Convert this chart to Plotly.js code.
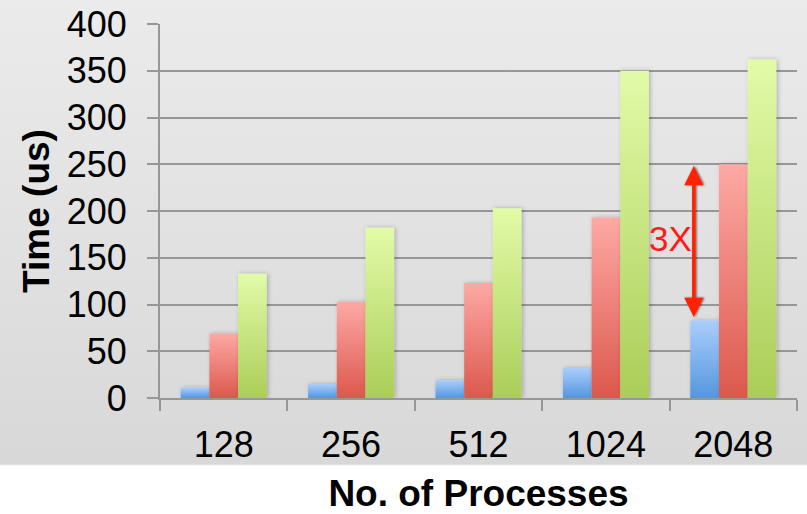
<!DOCTYPE html>
<html>
<head>
<meta charset="utf-8">
<script src="https://cdn.plot.ly/plotly-3.0.1.min.js"></script>
<style>
  html, body { margin: 0; padding: 0; background: #ffffff; }
  #chart {
    width: 807px; height: 514px;
    background: linear-gradient(to bottom, #ebebeb 0px, #d8d8d8 464px, #ffffff 466px, #ffffff 514px);
  }
</style>
</head>
<body>
<div id="chart"></div>
<script>
// Run time per process count, three implementations
const processes = ['128', '256', '512', '1024', '2048'];
const blueTimes  = [11, 15, 19, 32, 83];
const redTimes   = [69, 103, 123, 193, 250];
const greenTimes = [133, 182, 203, 350, 362];
const speedupLabel = '3X';

const yTicks = [0, 50, 100, 150, 200, 250, 300, 350, 400];

const gridGray = '#979797';
const font = { family: 'Liberation Sans, Arial, sans-serif', size: 36, color: '#000000' };

const traces = [
  { type: 'bar', x: processes, y: blueTimes,  marker: { color: '#7fb2ee' }, name: 'A' },
  { type: 'bar', x: processes, y: redTimes,   marker: { color: '#ec7f77' }, name: 'B' },
  { type: 'bar', x: processes, y: greenTimes, marker: { color: '#c8e48a' }, name: 'C' }
];

// Double-headed arrow between the fast and slow bars of the last group
const last = processes.length - 1;
const arrowX = last - 0.31;

const layout = {
  width: 807, height: 514,
  margin: { l: 160, r: 10, t: 24, b: 116 },
  paper_bgcolor: 'rgba(0,0,0,0)',
  plot_bgcolor: 'rgba(0,0,0,0)',
  font: font,
  showlegend: false,
  barmode: 'group',
  bargap: 0.325,
  bargroupgap: 0,
  xaxis: {
    type: 'category',
    showline: true, linecolor: gridGray, linewidth: 2,
    ticks: 'outside', tickson: 'boundaries', ticklen: 11, tickwidth: 2, tickcolor: gridGray,
    showgrid: false,
    tickfont: font,
    ticklabelstandoff: 14,
    title: { text: '<b>No. of Processes</b>', font: { family: font.family, size: 37, color: '#000' }, standoff: 23 }
  },
  yaxis: {
    range: [0, 400],
    tickvals: yTicks,
    showline: true, linecolor: gridGray, linewidth: 2,
    ticks: 'outside', ticklen: 11, tickwidth: 2, tickcolor: gridGray,
    showgrid: true, gridcolor: gridGray, gridwidth: 2,
    zeroline: false,
    tickfont: font,
    ticklabelstandoff: 13,
    title: { text: '<b>Time (us)</b>', font: { family: font.family, size: 37, color: '#000' }, standoff: 6 }
  },
  annotations: [
    {
      x: arrowX, y: redTimes[last] - 2, ax: arrowX, ay: blueTimes[last] + 2,
      xref: 'x', yref: 'y', axref: 'x', ayref: 'y',
      text: '', showarrow: true, arrowside: 'end+start',
      arrowhead: 2, arrowsize: 1.1, arrowwidth: 3.5, arrowcolor: '#ff2200', standoff: 0, startstandoff: 0
    },
    {
      x: arrowX, y: (redTimes[last] + blueTimes[last]) / 2 + 4,
      xref: 'x', yref: 'y', xanchor: 'right', yanchor: 'middle',
      text: speedupLabel, showarrow: false,
      font: { family: font.family, size: 35, color: '#ff1a1a' }
    }
  ]
};

// Vertical shading of each bar plus a soft shadow
const barShades = [
  ['#aacefc', '#5596dd'],
  ['#fda9a4', '#dc584d'],
  ['#e2fba8', '#abcd58']
];

function shadeBars(gd) {
  const svg = gd.querySelector('svg.main-svg');
  const ns = 'http://www.w3.org/2000/svg';
  let defs = svg.querySelector('defs');
  if (!defs) { defs = document.createElementNS(ns, 'defs'); svg.insertBefore(defs, svg.firstChild); }
  barShades.forEach((pair, i) => {
    const g = document.createElementNS(ns, 'linearGradient');
    g.setAttribute('id', 'barshade' + i);
    g.setAttribute('x1', '0'); g.setAttribute('y1', '0');
    g.setAttribute('x2', '0'); g.setAttribute('y2', '1');
    [[0, pair[0]], [1, pair[1]]].forEach(([o, c]) => {
      const s = document.createElementNS(ns, 'stop');
      s.setAttribute('offset', o);
      s.setAttribute('stop-color', c);
      g.appendChild(s);
    });
    defs.appendChild(g);
  });
  function shadow(id, dx, blur, op) {
    const f = document.createElementNS(ns, 'filter');
    f.setAttribute('id', id);
    f.setAttribute('x', '-50%'); f.setAttribute('y', '-10%');
    f.setAttribute('width', '200%'); f.setAttribute('height', '120%');
    const ds = document.createElementNS(ns, 'feDropShadow');
    ds.setAttribute('dx', dx); ds.setAttribute('dy', '0');
    ds.setAttribute('stdDeviation', blur);
    ds.setAttribute('flood-color', '#000'); ds.setAttribute('flood-opacity', op);
    f.appendChild(ds);
    defs.appendChild(f);
  }
  shadow('barshadow', '1.5', '2', '0.25');
  shadow('arrowshadow', '1', '0.8', '0.6');

  gd.querySelectorAll('.barlayer .trace').forEach((tr, i) => {
    tr.setAttribute('filter', 'url(#barshadow)');
    tr.querySelectorAll('path').forEach(p => { p.style.fill = 'url(#barshade' + i + ')'; });
  });
  gd.querySelectorAll('.annotation-arrow-g').forEach(a => a.setAttribute('filter', 'url(#arrowshadow)'));
}

Plotly.newPlot('chart', traces, layout, { staticPlot: true }).then(shadeBars);
</script>
</body>
</html>
